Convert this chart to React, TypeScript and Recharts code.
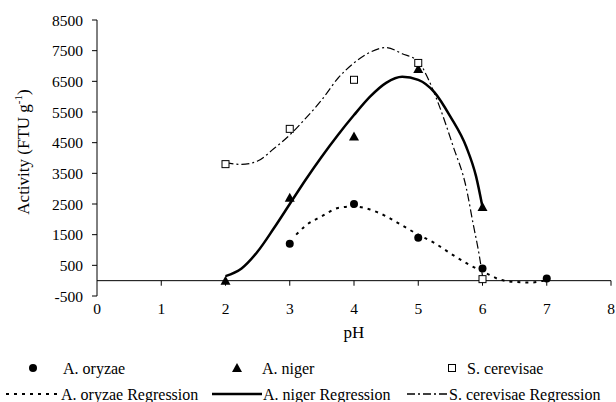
import { ComposedChart, Line, Scatter, XAxis, YAxis, ReferenceLine } from 'recharts';

// axis ticks
const xTicks = [0, 1, 2, 3, 4, 5, 6, 7, 8];
const yTicks = [-500, 500, 1500, 2500, 3500, 4500, 5500, 6500, 7500, 8500];

// measured activity (FTU g-1)
const oryzaePH = [3, 4, 5, 6, 7];
const oryzaeActivity = [1200, 2500, 1400, 400, 70];
const nigerPH = [2, 3, 4, 5, 6];
const nigerActivity = [0, 2700, 4700, 6900, 2400];
const cerevisaePH = [2, 3, 4, 5, 6];
const cerevisaeActivity = [3800, 4950, 6550, 7100, 50];

// regression curves
const oryzaeFitPH = [3.1, 3.25, 3.5, 3.75, 4, 4.25, 4.5, 4.75, 5, 5.25, 5.5, 5.75, 6, 6.1, 6.25, 6.5, 6.75, 7];
const oryzaeFit = [1500, 1800, 2100, 2370, 2420, 2320, 2100, 1800, 1500, 1230, 890, 570, 300, 200, 50, -40, -60, 30];
const nigerFitPH = [2, 2.25, 2.5, 2.75, 3, 3.25, 3.5, 3.75, 4, 4.25, 4.5, 4.75, 5, 5.25, 5.5, 5.75, 5.9, 6];
const nigerFit = [150, 400, 950, 1700, 2500, 3300, 4050, 4750, 5400, 6000, 6450, 6650, 6550, 6150, 5350, 4350, 3400, 2400];
const cerevisaeFitPH = [2, 2.25, 2.5, 2.75, 3, 3.25, 3.5, 3.75, 4, 4.25, 4.5, 4.75, 5, 5.15, 5.3, 5.54, 5.75, 5.85, 5.95, 6];
const cerevisaeFit = [3850, 3790, 3900, 4300, 4750, 5300, 5900, 6600, 7100, 7450, 7600, 7400, 7150, 6600, 5850, 4400, 3000, 1900, 820, 150];

const pts = (xs: number[], ys: number[]) => xs.map((x, i) => ({ x, y: ys[i] }));

const FONT = 'Liberation Serif';
const tickStyle = { fontSize: 15.5, fill: '#000', fontFamily: FONT };

const Circle = (p: any) => <circle cx={p.cx} cy={p.cy} r={4} fill="#000" />;
const Triangle = (p: any) => (
  <polygon points={`${p.cx},${p.cy - 5} ${p.cx - 5},${p.cy + 4} ${p.cx + 5},${p.cy + 4}`} fill="#000" />
);
const Square = (p: any) => (
  <rect x={p.cx - 3.5} y={p.cy - 3.5} width={7} height={7} fill="#fff" stroke="#000" strokeWidth={1} />
);

const YLabel = (props: any) => {
  const vb = props.viewBox;
  const x = 29;
  const y = vb.y + vb.height / 2 - 6;
  return (
    <text x={x} y={y} transform={`rotate(-90, ${x}, ${y})`} textAnchor="middle" fontSize={17} fontFamily={FONT} fill="#000">
      <tspan>Activity (FTU g</tspan>
      <tspan fontSize={11} dy={-7}>-1</tspan>
      <tspan dy={7}>)</tspan>
    </text>
  );
};

const XLabel = (props: any) => {
  const vb = props.viewBox;
  return (
    <text x={vb.x + vb.width / 2} y={vb.y + 42} textAnchor="middle" fontSize={17} fontFamily={FONT} fill="#000">
      pH
    </text>
  );
};

const legendRow1 = ['A. oryzae', 'A. niger', 'S. cerevisae'];
const legendRow2 = ['A. oryzae Regression', 'A. niger Regression', 'S. cerevisae Regression'];

function Legend() {
  const r1 = 28, r2 = 54;
  const t = { dominantBaseline: 'central' as const, fontSize: 16, fontFamily: FONT, fill: '#000' };
  return (
    <svg width={616} height={62} style={{ position: 'absolute', left: 0, top: 340 }}>
      <circle cx={33} cy={r1} r={4} fill="#000" />
      <text x={63} y={r1} {...t}>{legendRow1[0]}</text>
      <polygon points={`237,${r1 - 5} 232,${r1 + 4} 242,${r1 + 4}`} fill="#000" />
      <text x={262} y={r1} {...t}>{legendRow1[1]}</text>
      <rect x={448.5} y={r1 - 3.5} width={7} height={7} fill="#fff" stroke="#000" />
      <text x={467} y={r1} {...t}>{legendRow1[2]}</text>

      <line x1={6} x2={59} y1={r2} y2={r2} stroke="#000" strokeWidth={2} strokeDasharray="3 5" />
      <text x={61} y={r2} {...t}>{legendRow2[0]}</text>
      <line x1={212} x2={262} y1={r2} y2={r2} stroke="#000" strokeWidth={2.5} />
      <text x={263} y={r2} {...t}>{legendRow2[1]}</text>
      <line x1={407} x2={448} y1={r2} y2={r2} stroke="#000" strokeWidth={1.5} strokeDasharray="8 3 2 3" />
      <text x={449} y={r2} {...t}>{legendRow2[2]}</text>
    </svg>
  );
}

export default function App() {
  return (
    <div style={{ position: 'absolute', left: 0, top: 0, width: 616, height: 402, background: '#fff', fontFamily: FONT }}>
      <ComposedChart width={616} height={402} margin={{ top: 20, right: 5, left: 0, bottom: 66 }}>
        <XAxis
          type="number"
          dataKey="x"
          domain={[0, 8]}
          ticks={xTicks}
          axisLine={false}
          tickLine={false}
          tickSize={5}
          tickMargin={2}
          height={40}
          tick={tickStyle}
          label={XLabel}
        />
        <YAxis
          type="number"
          domain={[-500, 8500]}
          ticks={yTicks}
          width={97}
          tickSize={5}
          tickMargin={9}
          axisLine={{ stroke: '#000' }}
          tickLine={{ stroke: '#000' }}
          tick={tickStyle}
          label={YLabel}
        />
        <ReferenceLine y={0} stroke="#000" strokeWidth={1} />
        {xTicks.slice(1).map((t) => (
          <ReferenceLine key={t} segment={[{ x: t, y: 0 }, { x: t, y: -165 }]} stroke="#000" />
        ))}
        <Line data={pts(oryzaeFitPH, oryzaeFit)} dataKey="y" type="monotone" stroke="#000" strokeWidth={2}
          strokeDasharray="3 5" dot={false} isAnimationActive={false} />
        <Line data={pts(nigerFitPH, nigerFit)} dataKey="y" type="monotone" stroke="#000" strokeWidth={2.5}
          dot={false} isAnimationActive={false} />
        <Line data={pts(cerevisaeFitPH, cerevisaeFit)} dataKey="y" type="monotone" stroke="#000" strokeWidth={1.2}
          strokeDasharray="8 3 2 3" dot={false} isAnimationActive={false} />
        <Scatter data={pts(oryzaePH, oryzaeActivity)} dataKey="y" shape={Circle} isAnimationActive={false} />
        <Scatter data={pts(nigerPH, nigerActivity)} dataKey="y" shape={Triangle} isAnimationActive={false} />
        <Scatter data={pts(cerevisaePH, cerevisaeActivity)} dataKey="y" shape={Square} isAnimationActive={false} />
      </ComposedChart>
      <Legend />
    </div>
  );
}
